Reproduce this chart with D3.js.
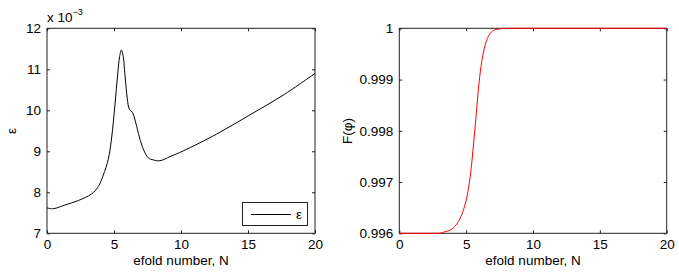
<!DOCTYPE html>
<html>
<head>
<meta charset="utf-8">
<script src="https://cdn.jsdelivr.net/npm/d3@7"></script>
<style>
  body { margin: 0; background: #fff; }
  text { font-family: "Liberation Sans", Arial, sans-serif; fill: #000; }
</style>
</head>
<body>
<div id="chart"></div>
<script>
// efold number values and epsilon (x 10^-3)
const epsN = [0, 0.47, 1.34, 2.34, 3.33, 3.83, 4.2, 4.57, 4.83, 5.07, 5.27, 5.42, 5.55, 5.67, 5.82, 5.99, 6.14, 6.37, 6.57, 6.82, 7.14, 7.56, 7.93, 8.43, 9.18, 10.17, 12.66, 15.15, 17.63, 20];
const epsVal = [7.62, 7.6, 7.69, 7.8, 7.96, 8.14, 8.42, 8.8, 9.35, 10.13, 10.86, 11.31, 11.47, 11.35, 10.86, 10.29, 10.03, 9.95, 9.76, 9.44, 9.09, 8.84, 8.79, 8.77, 8.87, 9.01, 9.42, 9.89, 10.37, 10.9];

// F(phi)
const fN = [0, 2.9, 3.42, 3.92, 4.42, 4.79, 5.11, 5.36, 5.56, 5.74, 5.91, 6.11, 6.36, 6.66, 7.16, 7.9, 20];
const fVal = [0.996, 0.996, 0.99603, 0.99608, 0.99623, 0.99645, 0.99678, 0.99723, 0.99776, 0.99828, 0.9988, 0.99925, 0.99961, 0.99984, 0.99997, 1.0, 1.0];

const xTicks = [0, 5, 10, 15, 20];
const epsTicks = [7, 8, 9, 10, 11, 12];
const fTicks = [0.996, 0.997, 0.998, 0.999, 1];

const width = 679, height = 274;
const fontSize = "13.5px";
const svg = d3.select("#chart").append("svg")
    .attr("width", width)
    .attr("height", height);

// draws a MATLAB style boxed axes with inward ticks on every side
function drawAxes(x, y, yTicks, yFormat) {
    const [x0, x1] = x.range();
    const [y0, y1] = y.range();
    const g = svg.append("g");

    g.append("g")
        .attr("transform", `translate(0,${y0})`)
        .call(d3.axisBottom(x).tickValues(xTicks).tickSize(-3).tickPadding(6).tickSizeOuter(0));
    g.append("g")
        .attr("transform", `translate(0,${y1})`)
        .call(d3.axisTop(x).tickValues(xTicks).tickSize(-3).tickFormat("").tickSizeOuter(0));
    g.append("g")
        .attr("transform", `translate(${x0},0)`)
        .call(d3.axisLeft(y).tickValues(yTicks).tickSize(-3).tickPadding(6).tickFormat(yFormat).tickSizeOuter(0));
    g.append("g")
        .attr("transform", `translate(${x1},0)`)
        .call(d3.axisRight(y).tickValues(yTicks).tickSize(-3).tickFormat("").tickSizeOuter(0));

    g.selectAll(".domain").remove();
    g.selectAll(".tick line").attr("stroke", "#222");
    g.selectAll(".tick text")
        .style("font-family", '"Liberation Sans", Arial, sans-serif')
        .style("font-size", fontSize)
        .attr("fill", "#000");

    g.append("rect")
        .attr("x", x0)
        .attr("y", y1)
        .attr("width", x1 - x0)
        .attr("height", y0 - y1)
        .attr("fill", "none")
        .attr("stroke", "#222")
        .attr("stroke-width", 1);

    g.append("text")
        .attr("x", (x0 + x1) / 2)
        .attr("y", 265)
        .attr("text-anchor", "middle")
        .style("font-size", fontSize)
        .text("efold number, N");
    return g;
}

// left panel
const xL = d3.scaleLinear().domain([0, 20]).range([47, 315]);
const yL = d3.scaleLinear().domain([7, 12]).range([233.3, 28.3]);
drawAxes(xL, yL, epsTicks, d3.format("d"));

svg.append("path")
    .datum(d3.zip(epsN, epsVal))
    .attr("fill", "none")
    .attr("stroke", "#000")
    .attr("stroke-width", 1)
    .attr("d", d3.line().x(d => xL(d[0])).y(d => yL(d[1])).curve(d3.curveCatmullRom.alpha(0.5)));

svg.append("text")
    .attr("transform", "translate(16,131) rotate(-90)")
    .attr("text-anchor", "middle")
    .style("font-size", fontSize)
    .text("ε");

const expo = svg.append("text")
    .attr("x", 47)
    .attr("y", 22)
    .style("font-size", fontSize);
expo.append("tspan").text("x 10");
expo.append("tspan").attr("dy", -7).style("font-size", "9px").text("−3");

// legend
const legend = svg.append("g");
legend.append("rect")
    .attr("x", 242.5).attr("y", 202.5)
    .attr("width", 65).attr("height", 23)
    .attr("fill", "#fff").attr("stroke", "#222");
legend.append("line")
    .attr("x1", 251).attr("x2", 291)
    .attr("y1", 214.5).attr("y2", 214.5)
    .attr("stroke", "#000");
legend.append("text")
    .attr("x", 296).attr("y", 219)
    .style("font-size", fontSize)
    .text("ε");

// right panel
const xR = d3.scaleLinear().domain([0, 20]).range([399.3, 666.7]);
const yR = d3.scaleLinear().domain([0.996, 1]).range([233.3, 28.3]);
drawAxes(xR, yR, fTicks, d => d === 1 ? "1" : d3.format(".3f")(d));

svg.append("path")
    .datum(d3.zip(fN, fVal))
    .attr("fill", "none")
    .attr("stroke", "#f00")
    .attr("stroke-width", 1)
    .attr("d", d3.line().x(d => xR(d[0])).y(d => yR(d[1])).curve(d3.curveMonotoneX));

svg.append("text")
    .attr("transform", "translate(352,131) rotate(-90)")
    .attr("text-anchor", "middle")
    .style("font-size", fontSize)
    .text("F(φ)");
</script>
</body>
</html>
